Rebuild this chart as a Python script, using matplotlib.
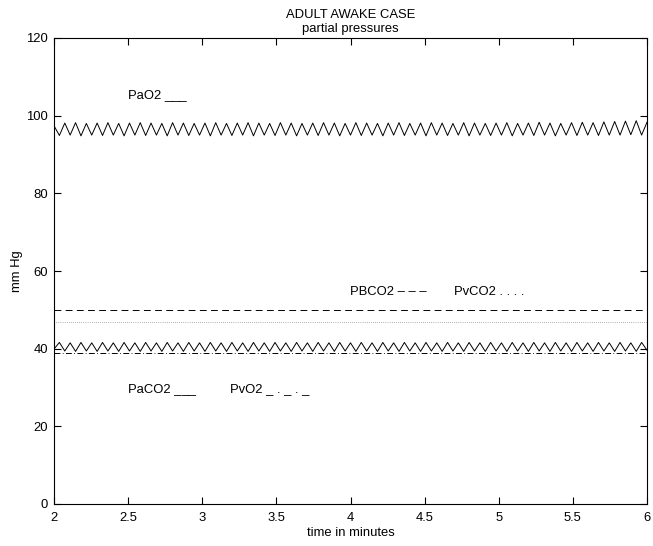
import numpy as np
import matplotlib
matplotlib.use("Agg")
import matplotlib.pyplot as plt

plt.rcParams['font.family'] = ['Liberation Sans', 'DejaVu Sans']

# ---- data ----
t_start, t_end = 2.0, 6.0
n_cycles = 55

pao2_peaks = [97.4, 98.1, 98.2, 98.0, 98.1, 98.2, 98.0, 98.1, 98.2, 98.1,
              98.0, 98.2, 98.1, 98.0, 98.1, 98.2, 98.0, 98.1, 98.2, 98.1,
              98.0, 98.2, 98.1, 98.0, 98.1, 98.2, 98.1, 98.0, 98.2, 98.1,
              98.0, 98.1, 98.2, 98.0, 98.1, 98.2, 98.1, 98.0, 98.2, 98.1,
              98.0, 98.1, 98.2, 98.0, 98.1, 98.3, 98.1, 98.0, 98.2, 98.3,
              98.2, 98.4, 98.5, 98.6, 98.7, 98.3]
pao2_troughs = [94.9, 95.0, 94.8, 95.0, 94.9, 95.0, 94.8, 95.0, 94.9, 95.0,
                94.8, 95.0, 94.9, 95.0, 94.8, 95.0, 94.9, 95.0, 94.8, 95.0,
                94.9, 95.0, 94.8, 95.0, 94.9, 95.0, 94.8, 95.0, 94.9, 95.0,
                94.8, 95.0, 94.9, 95.0, 94.8, 95.0, 94.9, 95.0, 94.8, 95.0,
                94.9, 95.0, 94.8, 95.0, 94.9, 95.0, 94.8, 95.0, 94.9, 95.0,
                94.9, 95.0, 95.0, 95.1, 95.0]

paco2_troughs = [39.9, 39.4, 39.3, 39.4, 39.3, 39.4, 39.3, 39.4, 39.3, 39.4,
                 39.3, 39.4, 39.3, 39.4, 39.3, 39.4, 39.3, 39.4, 39.3, 39.4,
                 39.3, 39.4, 39.3, 39.4, 39.3, 39.4, 39.3, 39.4, 39.3, 39.4,
                 39.3, 39.4, 39.3, 39.4, 39.3, 39.4, 39.3, 39.4, 39.3, 39.4,
                 39.3, 39.4, 39.3, 39.4, 39.3, 39.4, 39.3, 39.4, 39.3, 39.4,
                 39.3, 39.4, 39.3, 39.4, 39.3, 39.6]
paco2_peaks = [41.6, 41.5, 41.6, 41.5, 41.6, 41.5, 41.6, 41.5, 41.6, 41.5,
               41.6, 41.5, 41.6, 41.5, 41.6, 41.5, 41.6, 41.5, 41.6, 41.5,
               41.6, 41.5, 41.6, 41.5, 41.6, 41.5, 41.6, 41.5, 41.6, 41.5,
               41.6, 41.5, 41.6, 41.5, 41.6, 41.5, 41.6, 41.5, 41.6, 41.5,
               41.6, 41.5, 41.6, 41.5, 41.6, 41.5, 41.6, 41.5, 41.6, 41.5,
               41.6, 41.5, 41.6, 41.5, 41.6]

pbco2_level = 50.0
pvco2_level = 46.9
pvo2_level = 38.9

labels = ["PaO2 ___", "PBCO2 \u2013 \u2013 \u2013", "PvCO2 . . . .",
          "PaCO2 ___", "PvO2 _ . _ . _"]
label_x = [2.5, 4.0, 4.7, 2.5, 3.19]
label_y = [105.3, 54.6, 54.6, 29.6, 29.6]

xticks = [2, 2.5, 3, 3.5, 4, 4.5, 5, 5.5, 6]
xticklabels = ["2", "2.5", "3", "3.5", "4", "4.5", "5", "5.5", "6"]
yticks = [0, 20, 40, 60, 80, 100, 120]

# ---- build series ----
t = np.linspace(t_start, t_end, 2 * n_cycles + 1)
pao2 = np.empty(t.size)
pao2[0::2] = pao2_peaks
pao2[1::2] = pao2_troughs
paco2 = np.empty(t.size)
paco2[0::2] = paco2_troughs
paco2[1::2] = paco2_peaks

fig = plt.figure(figsize=(6.53, 5.46), dpi=100)
ax = fig.add_axes([54/653, 1 - 504/546, (647 - 54)/653, (504 - 38)/546])

lw = 0.7
fs = 9.4
ax.plot(t, pao2, color='black', lw=lw)
ax.plot(t, paco2, color='black', lw=lw)
ax.plot([t_start, t_end], [pbco2_level]*2, color='black', lw=lw,
        dashes=(7, 4.5))
ax.plot([t_start, t_end], [pvco2_level]*2, color='black', lw=0.5,
        dashes=(0.6, 2.4))
ax.plot([t_start, t_end], [pvo2_level]*2, color='black', lw=lw,
        dashes=(6, 2.5, 0.8, 2.5))

for s, x, y in zip(labels, label_x, label_y):
    ax.text(x, y, s, fontsize=fs, ha='left', va='center')

ax.set_xlim(t_start, t_end)
ax.set_ylim(0, 120)
ax.set_xticks(xticks)
ax.set_xticklabels(xticklabels)
ax.set_yticks(yticks)
ax.tick_params(direction='in', top=True, right=True, labelsize=fs,
               length=5, width=0.8)
ax.tick_params(axis='x', pad=6)
ax.tick_params(axis='y', pad=4.5)
for sp in ax.spines.values():
    sp.set_linewidth(0.8)

ax.set_xlabel("time in minutes", fontsize=fs, labelpad=2)
ax.set_ylabel("mm Hg", fontsize=fs, labelpad=2.5)
ax.set_title("ADULT AWAKE CASE\npartial pressures", fontsize=fs,
             linespacing=1.15, pad=4.5)

fig.savefig("out.png", dpi=100)
